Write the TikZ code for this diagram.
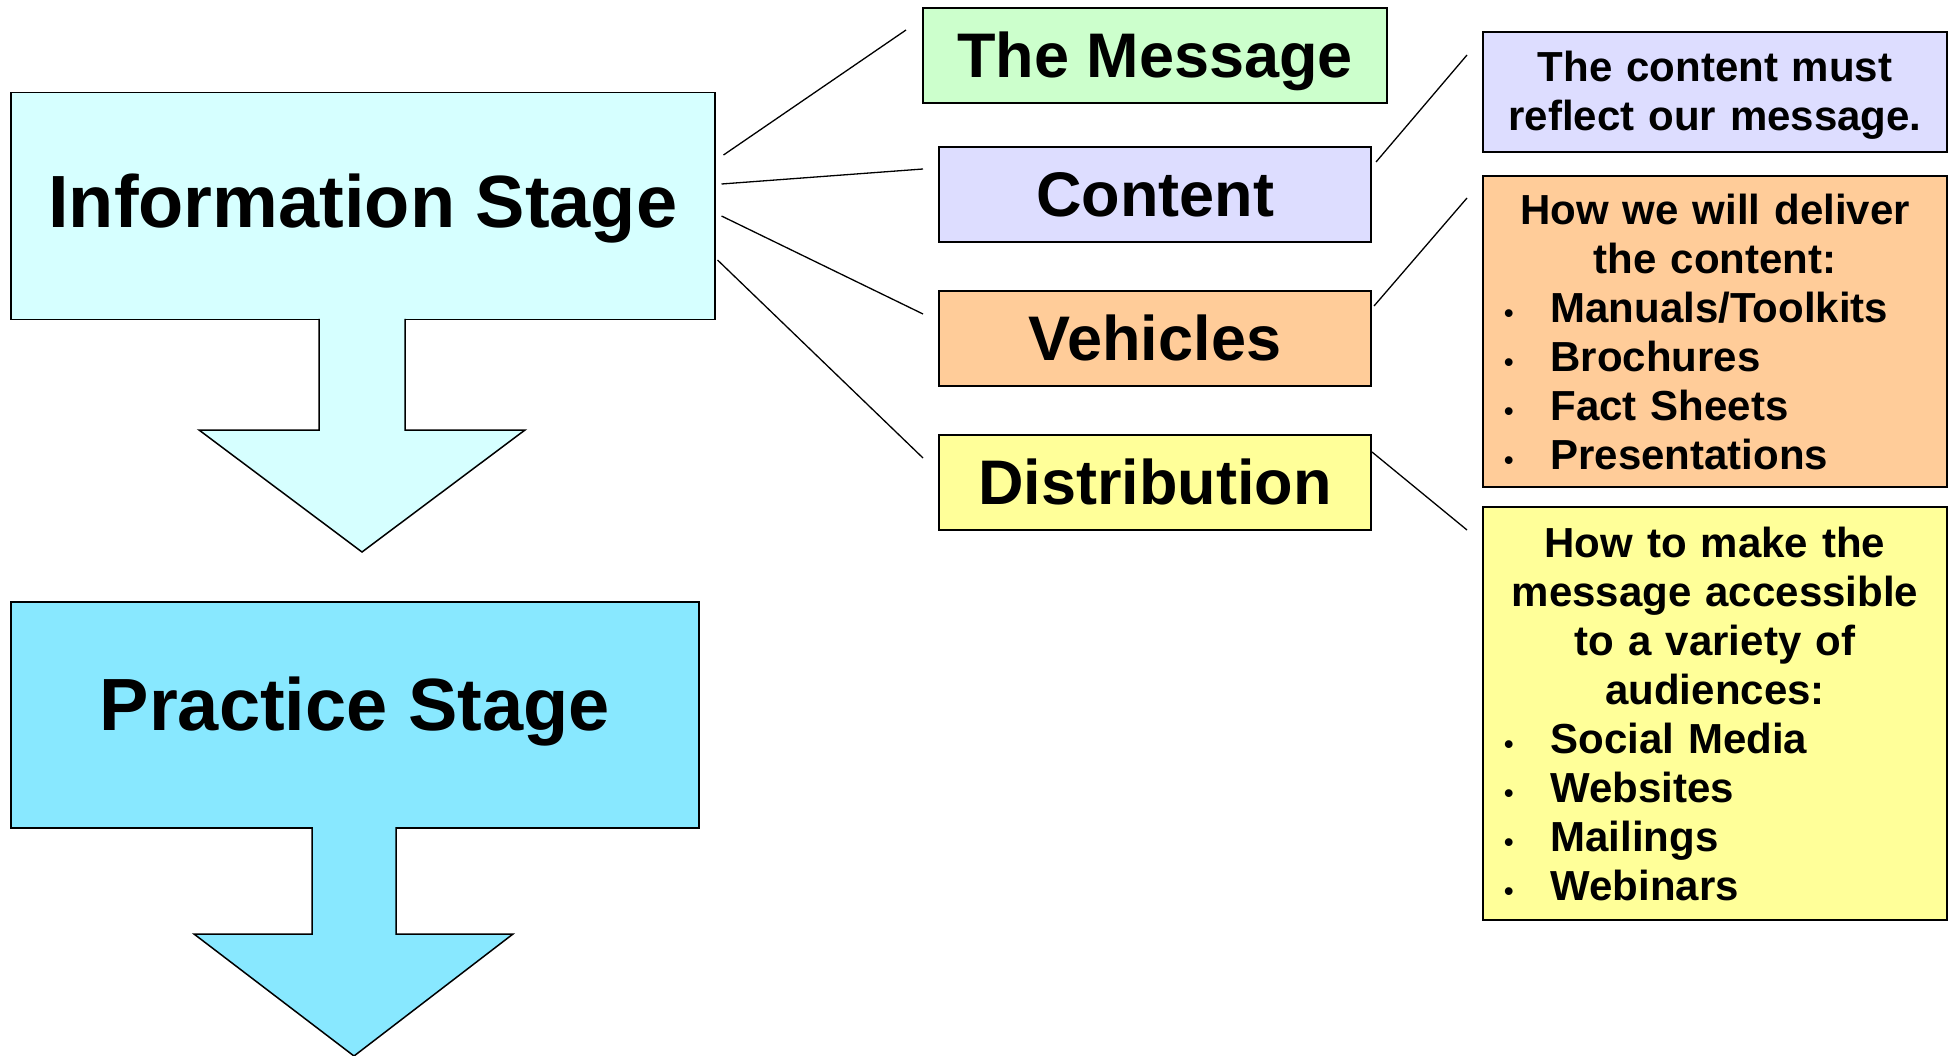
\documentclass[tikz,border=0pt]{standalone}
\usepackage{fontspec}
\setmainfont{Liberation Sans}
\usetikzlibrary{calc}
\definecolor{infoc}{RGB}{214,255,255}
\definecolor{pracc}{RGB}{136,232,255}
\definecolor{greenc}{RGB}{204,255,204}
\definecolor{lavc}{RGB}{221,221,255}
\definecolor{orc}{RGB}{255,204,153}
\definecolor{yelc}{RGB}{255,255,153}
\newcommand\mybul{{\fontsize{27}{27}\selectfont •}}
\newcommand\myitem[1]{\makebox[464pt][l]{\hspace{21pt}\mybul\hspace{37pt}#1}}
\begin{document}
\begin{tikzpicture}[x=1pt,y=-1pt,
  stagebox/.style={draw=black, line width=1.5pt, inner sep=0pt, anchor=north west,
    font=\fontsize{74}{88}\selectfont\bfseries, text depth=0pt},
  topic/.style={draw=black, line width=2pt, inner sep=0pt, anchor=north west,
    minimum width=432pt, minimum height=95pt, text height=44pt, text depth=0pt,
    font=\fontsize{63}{75}\selectfont\bfseries},
  note/.style={draw=black, line width=2pt, inner sep=0pt, anchor=north west,
    minimum width=464pt, text width=464pt, align=center,
    font=\fontsize{42}{49}\selectfont\bfseries},
  link/.style={line width=1.3pt},
  stagearrow/.style={line width=1.5pt, line join=miter}]
\useasboundingbox (0,0) rectangle (1954,1056);

% Information stage
\node[stagebox, fill=infoc, minimum width=704pt, minimum height=227pt, text height=43pt] (info) at (10,92) {Information Stage};
\fill[infoc] (319,316) rectangle (405,432);
\fill[infoc] (199,430) -- (362,552) -- (525,430) -- cycle;
\draw[stagearrow] (319,319) -- (319,430) -- (199,430) -- (362,552) -- (525,430) -- (405,430) -- (405,319);

% Practice stage
\node[stagebox, fill=pracc, minimum width=688pt, minimum height=226pt, text height=31pt] (prac) at (10,601) {Practice Stage};
\fill[pracc] (312,824) rectangle (396,936);
\fill[pracc] (194,934) -- (354,1056) -- (513,934) -- cycle;
\draw[stagearrow] (312,827) -- (312,934) -- (194,934) -- (354,1056) -- (513,934) -- (396,934) -- (396,827);

% Topics
\node[topic, fill=greenc, minimum width=464pt] (msg) at (922,7) {The Message};
\node[topic, fill=lavc] (content) at (938,146) {Content};
\node[topic, fill=orc] (veh) at (938,290) {Vehicles};
\node[topic, fill=yelc] (dist) at (938,434) {Distribution};

% Notes
\node[note, fill=lavc, minimum height=120pt] (n1) at (1482,31) {\rule{0pt}{36pt}The content must\\reflect our message.};
\node[note, fill=orc, minimum height=311pt] (n2) at (1482,175) {How we will deliver\\the content:\\
  \myitem{Manuals/Toolkits}\\\myitem{Brochures}\\\myitem{Fact Sheets}\\\myitem{Presentations}};
\node[note, fill=yelc, minimum height=413pt] (n3) at (1482,506) {How to make the\\message accessible\\to a variety of\\audiences:\\
  \myitem{Social Media}\\\myitem{Websites}\\\myitem{Mailings}\\\myitem{Webinars}};

% Connectors
\draw[link] ($(info.north east)+(8,63)$) -- ($(msg.north west)+(-16,23)$);
\draw[link] ($(info.north east)+(6,92)$) -- ($(content.north west)+(-15,23)$);
\draw[link] ($(info.north east)+(6,124)$) -- ($(veh.north west)+(-15,24)$);
\draw[link] ($(info.north east)+(2,168)$) -- ($(dist.north west)+(-15,24)$);
\draw[link] ($(content.north east)+(4,16)$) -- ($(n1.north west)+(-15,24)$);
\draw[link] ($(veh.north east)+(2,16)$) -- ($(n2.north west)+(-15,23)$);
\draw[link] ($(dist.north east)+(0,18)$) -- ($(n3.north west)+(-15,24)$);
\end{tikzpicture}
\end{document}
